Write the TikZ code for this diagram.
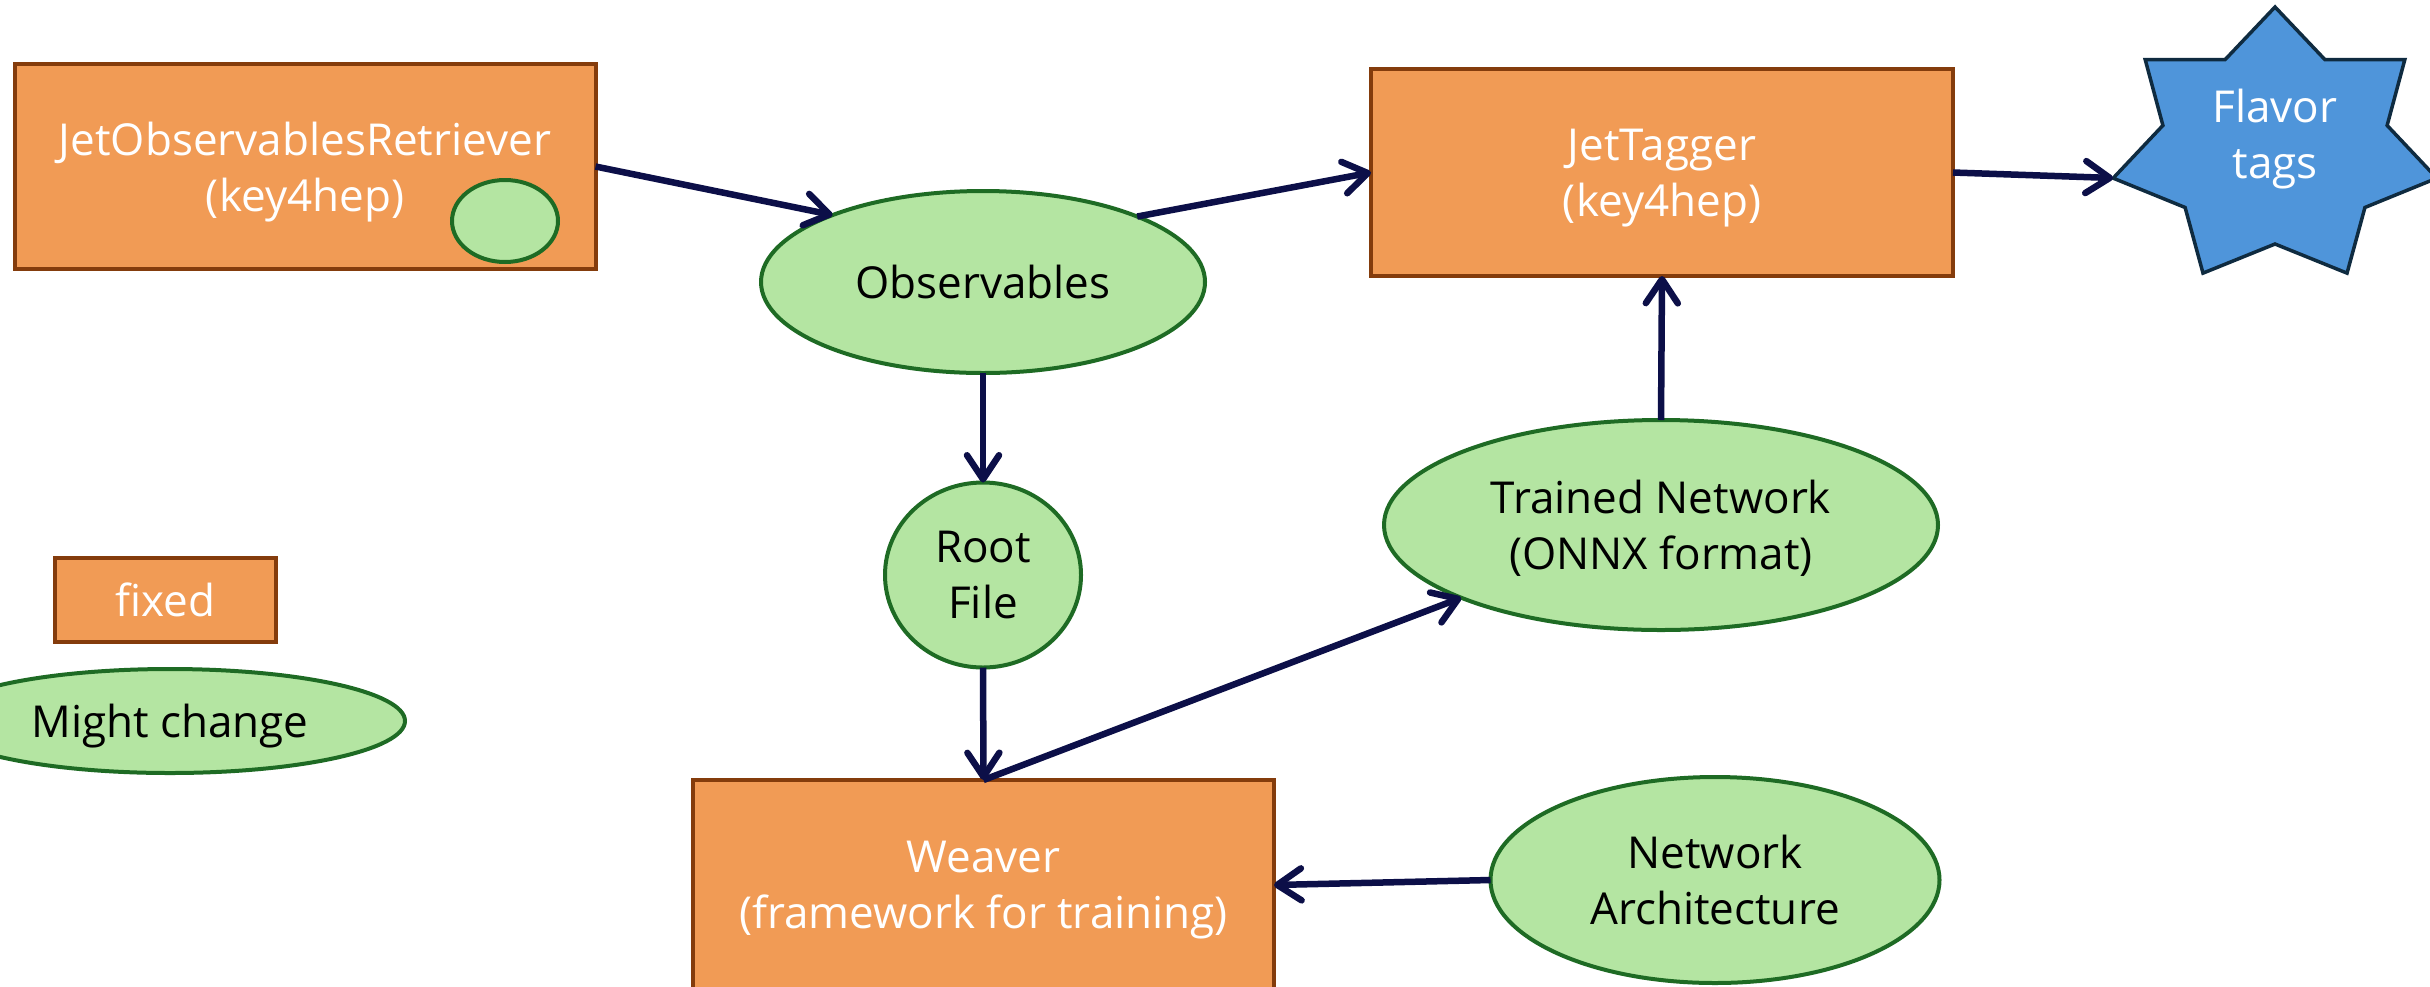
\documentclass[tikz,border=0pt]{standalone}
\usepackage{fontspec}
\setmainfont{Open Sans}
\usetikzlibrary{arrows.meta,shapes.geometric}
\definecolor{boxfill}{HTML}{F19B55}
\definecolor{boxline}{HTML}{843C0C}
\definecolor{ellfill}{HTML}{B4E5A2}
\definecolor{ellline}{HTML}{1E6B24}
\definecolor{starfill}{HTML}{4F95DA}
\definecolor{starline}{HTML}{0F2B40}
\definecolor{arrowc}{HTML}{0C0F48}
\begin{document}
\begin{tikzpicture}[x=1pt,y=-1pt,
 every node/.style={font=\fontsize{44}{56}\selectfont, align=center, inner sep=0pt, outer sep=0pt, text depth=0pt},
 fixedbox/.style={rectangle, draw=boxline, fill=boxfill, line width=4pt, text=white},
 changeell/.style={ellipse, draw=ellline, fill=ellfill, line width=4pt, text=black},
 conn/.style={draw=arrowc, line width=6.5pt, -{Straight Barb[length=24pt,width=32pt,round]}},
]
\path[use as bounding box, clip] (0,0) rectangle (2430,986);
\fill[white] (0,0) rectangle (2430,986);

% nodes
\node[fixedbox, minimum width=581pt, minimum height=205pt] (jor) at (305,166.5) {JetObservablesRetriever\\(key4hep)};
\node[changeell, minimum width=106pt, minimum height=82pt] (small) at (505,221) {};
\node[changeell, minimum width=444pt, minimum height=182pt] (obs) at (983,282) {Observables};
\node[changeell, minimum width=196pt, minimum height=185pt] (root) at (983,575) {Root\\File};
\node[fixedbox, minimum width=581pt, minimum height=210pt] (weaver) at (983.5,885) {Weaver\\(framework for training)};
\node[fixedbox, minimum width=582pt, minimum height=207pt] (jt) at (1662,172.5) {JetTagger\\(key4hep)};
\node[changeell, minimum width=554pt, minimum height=210pt] (tn) at (1661,525) {Trained Network\\(ONNX format)};
\node[changeell, minimum width=449pt, minimum height=206pt] (na) at (1715,880) {Network\\Architecture};
\node[fixedbox, minimum width=221pt, minimum height=84pt] (legfixed) at (165.5,600) {fixed};
\node[changeell, minimum width=470pt, minimum height=104pt] (legchange) at (170,721) {Might change};

% star
\draw[fill=starfill, draw=starline, line width=3.5pt, line join=miter]
  plot[samples at={0,...,13}] ({2275 + (mod(\x,2)==0 ? 166 : 115)*cos(90+\x*180/7)}, {147 - (mod(\x,2)==0 ? 140 : 97)*sin(90+\x*180/7)}) -- cycle;
\coordinate (starL) at (2113,178);
\node[text=white] (flavor) at (2275,134) {Flavor\\tags};

% connectors
\draw[conn] (jor.east) -- (obs.156);
\draw[conn] (obs.23) -- (jt.west);
\draw[conn] (jt.east) -- (starL);
\draw[conn] (obs.south) -- (root.north);
\draw[conn] (root.south) -- (weaver.north);
\draw[conn] (weaver.north) -- (tn.200);
\draw[conn] (tn.north) -- (jt.south);
\draw[conn] (na.west) -- (weaver.east);
\end{tikzpicture}
\end{document}
